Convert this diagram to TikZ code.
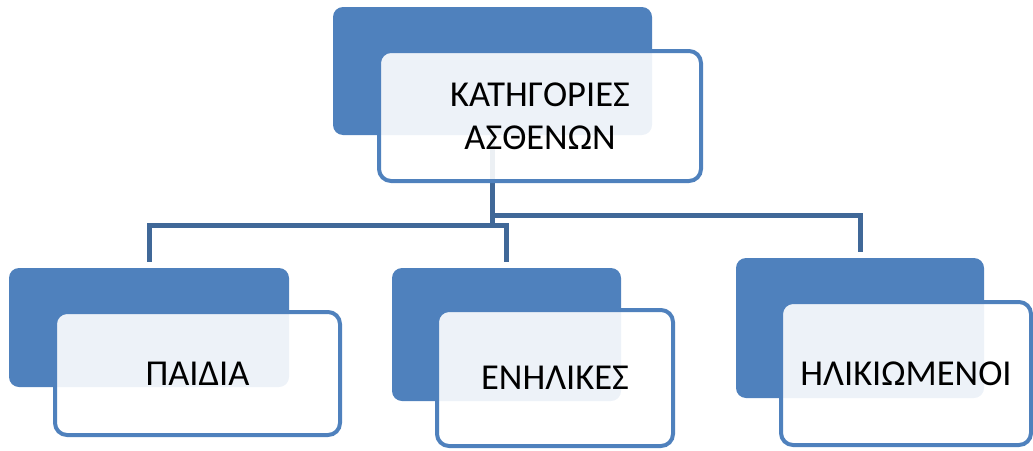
\documentclass[tikz,border=0pt]{standalone}
\usepackage{fontspec}
\setmainfont{Carlito}
\definecolor{darkfill}{RGB}{79,129,189}
\definecolor{connc}{RGB}{64,104,152}
\begin{document}
\begin{tikzpicture}[x=1pt,y=-1pt,
  back/.style={fill=darkfill,draw=none,rounded corners=10pt,inner sep=0pt},
  front/.style={fill=white,fill opacity=0.9,text opacity=1,draw=darkfill,line width=4pt,
    rounded corners=12pt,inner sep=0pt,align=center,font=\fontsize{36.5}{43}\selectfont},
  conn/.style={draw=connc,line width=5pt,shorten >=6pt}]
\useasboundingbox (0,0) rectangle (1033,450);
% back rectangles
\node[back,minimum width=319pt,minimum height=128pt] (tb) at (492.5,71) {};
\node[back,minimum width=280pt,minimum height=119pt] (pb) at (149,327.5) {};
\node[back,minimum width=229pt,minimum height=133pt] (eb) at (506.5,334.5) {};
\node[back,minimum width=248pt,minimum height=140pt] (hb) at (860,328) {};
% connectors
\draw[conn] (tb.south) -- ++(0,90) -| (pb.north);
\draw[conn] (tb.south) -- ++(0,90) -| (eb.north);
\draw[conn] (tb.south) -- ++(0,80) -| (hb.north);
% front boxes
\node[front,minimum width=322pt,minimum height=130pt] (tf) at (540,116) {ΚΑΤΗΓΟΡΙΕΣ\\ΑΣΘΕΝΩΝ};
\node[front,minimum width=285pt,minimum height=123pt] (pf) at (197.5,373.5) {ΠΑΙΔΙΑ};
\node[front,minimum width=236pt,minimum height=136pt] (ef) at (555,378) {ΕΝΗΛΙΚΕΣ};
\node[front,minimum width=250pt,minimum height=143pt] (hf) at (906,373.5) {ΗΛΙΚΙΩΜΕΝΟΙ};
\end{tikzpicture}
\end{document}
